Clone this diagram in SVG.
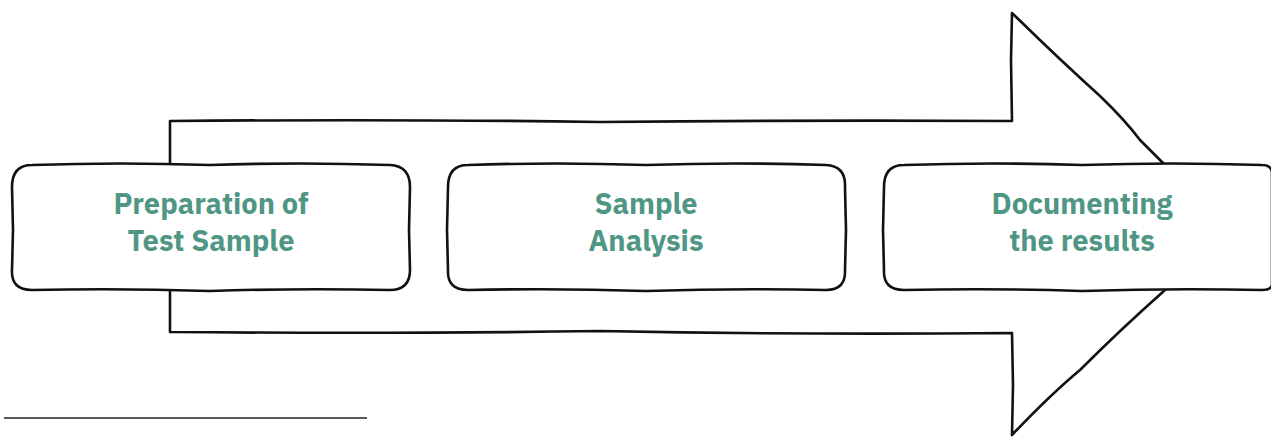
<svg xmlns="http://www.w3.org/2000/svg" width="1271" height="437" viewBox="0 0 1271 437">
<style>
.sk{fill:#ffffff;stroke:#111111;stroke-width:2.6;stroke-linejoin:round;stroke-linecap:round}
.lbl{font-family:"IBM Plex Sans","Noto Sans","Open Sans",sans-serif;font-weight:700;font-size:29px;fill:#4f9685;text-anchor:middle}
</style>
<rect width="1271" height="437" fill="#ffffff"/>
<g id="connectors">
<path id="big-arrow" class="sk" d="M170,232 L170,121 Q400,119 600,122 Q800,120 1012,121 L1011,60 L1012,13 Q1060,60 1100,96 Q1125,120 1140,140 L1224,224 L1165,290 Q1120,330 1080,370 Q1050,395 1012,435 L1013,385 L1012,333 Q800,335 600,331 Q400,334 170,332 Z"/>
</g>
<g id="node1">
<path class="sk" d="M32,165 Q120,162 210,165 Q300,162 390,165 Q410,166 410,187 L409,230 L410,270 Q410,290 390,290 Q300,288 210,291 Q120,288 32,290 Q11,290 12,270 L13,230 L12,187 Q12,165 32,165 Z"/>
<text class="lbl" x="211" y="214">Preparation of</text>
<text class="lbl" x="211" y="251">Test Sample</text>
</g>
<g id="node2">
<path class="sk" d="M468,165 Q556,162 646,165 Q736,162 826,165 Q846,166 845,187 L846,230 L845,270 Q846,290 826,290 Q736,288 646,291 Q556,288 468,290 Q447,290 448,270 L447,230 L448,187 Q448,165 468,165 Z"/>
<text class="lbl" x="646" y="214">Sample</text>
<text class="lbl" x="646" y="251">Analysis</text>
</g>
<g id="node3">
<path class="sk" d="M904,165 Q992,162 1082,165 Q1172,162 1262,165 Q1271,165 1272,172 L1272,285 Q1271,290 1262,290 Q1172,288 1082,291 Q992,288 904,290 Q883,290 884,270 L883,230 L884,187 Q884,165 904,165 Z"/>
<text class="lbl" x="1082" y="214">Documenting</text>
<text class="lbl" x="1082" y="251">the results</text>
</g>
<line x1="4" y1="418" x2="367" y2="418" stroke="#222222" stroke-width="1.3"/>
</svg>
